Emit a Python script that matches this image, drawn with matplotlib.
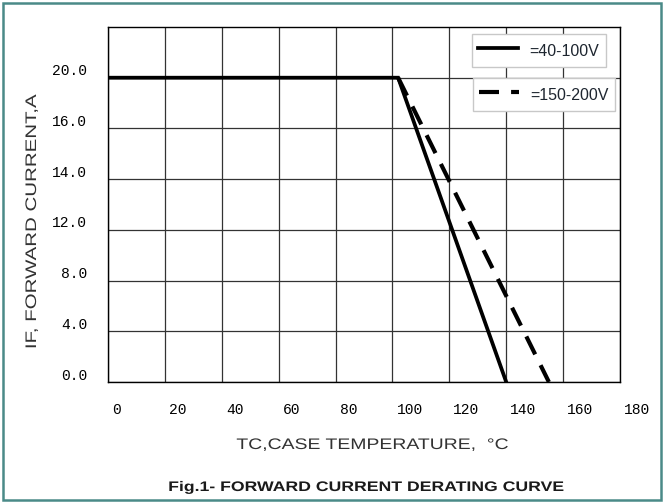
import matplotlib.pyplot as plt
from matplotlib.patches import Rectangle
from matplotlib.patheffects import AbstractPathEffect
from matplotlib.transforms import Affine2D, ScaledTranslation

# case temperature (C) vs forward current (A)
tc_40_100 = [0, 102, 140]
if_40_100 = [20, 20, 0]
tc_150_200 = [102, 155]
if_150_200 = [20, 0]
series_labels = ["=40-100V", "=150-200V"]

temp_ticks = [0, 20, 40, 60, 80, 100, 120, 140, 160, 180]
# the sheet's y labels are not evenly stepped, each one just sits on a grid row
current_labels = ["0.0", "4.0", "8.0", "12.0", "14.0", "16.0", "20.0"]
row_step = 20 / 6


class Widen(AbstractPathEffect):
    # lettering on the sheet is stretched sideways, widen the glyphs about their middle
    def __init__(self, sx):
        super().__init__()
        self.sx = sx

    def draw_path(self, renderer, gc, tpath, affine, rgbFace=None):
        ext = tpath.get_extents()
        cx = (ext.x0 + ext.x1) / 2
        widen = Affine2D().translate(-cx, 0).scale(self.sx, 1).translate(cx, 0)
        renderer.draw_path(gc, tpath, widen + affine, rgbFace)


W, H = 664, 503
fig = plt.figure(figsize=(W / 100, H / 100), dpi=100)
fig.patches.append(Rectangle((3 / W, 3 / H), 1 - 6 / W, 1 - 6 / H, transform=fig.transFigure,
                             fill=False, edgecolor="#4a8a88", lw=1.8))

ax = fig.add_axes([108 / W, 121 / H, 512 / W, 355 / H])
l1, = ax.plot(tc_40_100, if_40_100, color="black", lw=2.7, solid_joinstyle="miter")
l2, = ax.plot(tc_150_200, if_150_200, color="black", lw=3.0, dashes=(4.8, 2.9))

ax.set_xlim(0, 180)
ax.set_ylim(0, row_step * 7)
ax.set_xticks(temp_ticks)
ax.set_xticklabels([str(t) for t in temp_ticks], family="Liberation Mono", fontsize=10.5, ha="left")
ax.set_yticks([row_step * i for i in range(len(current_labels))])
ax.set_yticklabels(current_labels, family="Liberation Mono", fontsize=10.5)
ax.tick_params(length=0, pad=15)
ax.grid(True, color="#333333", lw=0.9)
for s in ax.spines.values():
    s.set_color("black")
    s.set_linewidth(1.0)

for lab in ax.get_xticklabels():
    lab.set_transform(lab.get_transform() + ScaledTranslation(0.04, 0, fig.dpi_scale_trans))
for lab in ax.get_yticklabels():
    lab.set_transform(lab.get_transform() + ScaledTranslation(0, 0.08, fig.dpi_scale_trans))

leg_kw = dict(loc="upper left", bbox_transform=fig.transFigure, borderaxespad=0, fancybox=False,
              edgecolor="#c8c8c8", framealpha=1, prop={"family": "Liberation Sans", "size": 11.5},
              handlelength=2.45, handleheight=1.55, handletextpad=0.75, borderpad=0.4,
              labelcolor="#1e2630")
leg1 = ax.legend([l1], [series_labels[0]], bbox_to_anchor=(472 / W, 1 - 34 / H), **leg_kw)
ax.add_artist(leg1)
leg2 = ax.legend([l2], [series_labels[1]], bbox_to_anchor=(473 / W, 1 - 78 / H), **leg_kw)
for leg in (leg1, leg2):
    leg.get_frame().set_linewidth(1.0)

fig.text(372 / W, 1 - 445 / H, "TC,CASE TEMPERATURE,  \u00b0C", ha="center", va="center",
         family="Liberation Sans", fontsize=11, color="#333333", path_effects=[Widen(1.27)])
fig.text(32 / W, 1 - 222 / H, "IF, FORWARD CURRENT,A", ha="center", va="center", rotation=90,
         family="Liberation Sans", fontsize=11, color="#333333", path_effects=[Widen(1.34)])
fig.text(366 / W, 1 - 487 / H, "Fig.1- FORWARD CURRENT DERATING CURVE", ha="center", va="center",
         family="Liberation Sans", fontsize=10, fontweight="bold", color="#1a1a1a",
         path_effects=[Widen(1.27)])

fig.savefig("out.png", dpi=100)
